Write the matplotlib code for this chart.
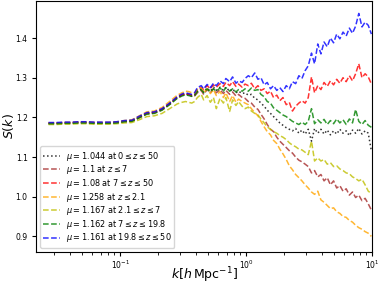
import matplotlib
matplotlib.use("Agg")
import matplotlib.pyplot as plt

# k bins [h/Mpc]
k_vals = [0.027, 0.031, 0.036, 0.041, 0.047, 0.054, 0.062, 0.071, 0.082, 0.094,
          0.108, 0.124, 0.142, 0.163, 0.187, 0.215, 0.247, 0.284,
          0.31, 0.33, 0.35, 0.37, 0.39, 0.41, 0.44, 0.46, 0.49, 0.52,
          0.55, 0.58, 0.62, 0.66, 0.69, 0.74, 0.78, 0.83, 0.87, 0.93,
          0.98, 1.04, 1.10, 1.17, 1.24, 1.31, 1.39, 1.47, 1.56, 1.65,
          1.75, 1.85, 1.96, 2.08, 2.20, 2.33, 2.47, 2.62, 2.77, 2.94,
          3.11, 3.30, 3.49, 3.70, 3.92, 4.15, 4.40, 4.66, 4.94, 5.23,
          5.54, 5.87, 6.22, 6.59, 6.98, 7.39, 7.83, 8.30, 8.79, 9.31, 9.86]

s_all = [1.185, 1.185, 1.186, 1.186, 1.187, 1.187, 1.186, 1.186, 1.186, 1.187,
         1.190, 1.191, 1.200, 1.210, 1.212, 1.220, 1.234, 1.250,
         1.256, 1.259, 1.257, 1.254, 1.256, 1.266, 1.272, 1.264, 1.274, 1.266,
         1.276, 1.268, 1.276, 1.268, 1.276, 1.266, 1.272, 1.262, 1.266, 1.260,
         1.262, 1.256, 1.258, 1.248, 1.244, 1.236, 1.228, 1.218, 1.210, 1.202,
         1.194, 1.186, 1.180, 1.174, 1.170, 1.166, 1.172, 1.160, 1.168, 1.158,
         1.170, 1.140, 1.172, 1.160, 1.170, 1.158, 1.168, 1.156, 1.166, 1.158,
         1.170, 1.160, 1.166, 1.154, 1.168, 1.160, 1.172, 1.158, 1.166, 1.160, 1.115]

s_z7 = [1.184, 1.184, 1.185, 1.185, 1.186, 1.186, 1.185, 1.185, 1.185, 1.186,
        1.189, 1.190, 1.199, 1.209, 1.211, 1.219, 1.233, 1.249,
        1.256, 1.259, 1.257, 1.254, 1.254, 1.262, 1.268, 1.258, 1.270, 1.262,
        1.272, 1.262, 1.270, 1.260, 1.268, 1.258, 1.264, 1.254, 1.258, 1.250,
        1.248, 1.240, 1.236, 1.226, 1.220, 1.208, 1.196, 1.182, 1.170, 1.164,
        1.150, 1.140, 1.132, 1.124, 1.116, 1.110, 1.100, 1.092, 1.088, 1.082,
        1.076, 1.060, 1.066, 1.050, 1.056, 1.040, 1.048, 1.030, 1.040, 1.022,
        1.028, 1.014, 1.020, 1.004, 1.012, 0.998, 1.004, 0.990, 0.996, 0.982, 0.966]

s_z7_50 = [1.186, 1.186, 1.187, 1.187, 1.188, 1.188, 1.187, 1.187, 1.187, 1.188,
           1.191, 1.192, 1.201, 1.211, 1.213, 1.221, 1.235, 1.251,
           1.257, 1.260, 1.258, 1.256, 1.258, 1.270, 1.276, 1.270, 1.280, 1.272,
           1.282, 1.276, 1.285, 1.278, 1.288, 1.280, 1.290, 1.278, 1.284, 1.276,
           1.284, 1.280, 1.286, 1.272, 1.280, 1.268, 1.272, 1.260, 1.266, 1.250,
           1.256, 1.242, 1.250, 1.232, 1.238, 1.216, 1.228, 1.236, 1.242, 1.236,
           1.250, 1.302, 1.262, 1.280, 1.270, 1.288, 1.278, 1.292, 1.282, 1.296,
           1.286, 1.300, 1.290, 1.305, 1.292, 1.310, 1.335, 1.300, 1.310, 1.302, 1.284]

s_z21 = [1.186, 1.186, 1.187, 1.187, 1.188, 1.188, 1.187, 1.187, 1.187, 1.189,
         1.192, 1.194, 1.204, 1.214, 1.216, 1.225, 1.240, 1.256,
         1.262, 1.266, 1.265, 1.262, 1.262, 1.270, 1.275, 1.262, 1.272, 1.260,
         1.270, 1.255, 1.265, 1.250, 1.262, 1.240, 1.255, 1.238, 1.246, 1.240,
         1.236, 1.232, 1.222, 1.212, 1.204, 1.190, 1.176, 1.164, 1.156, 1.142,
         1.134, 1.120, 1.108, 1.094, 1.078, 1.068, 1.056, 1.048, 1.040, 1.030,
         1.022, 1.012, 1.006, 1.014, 0.992, 0.986, 0.978, 0.970, 0.972, 0.962,
         0.958, 0.950, 0.948, 0.940, 0.936, 0.928, 0.922, 0.918, 0.912, 0.908, 0.900]

s_z21_7 = [1.182, 1.182, 1.183, 1.183, 1.184, 1.184, 1.183, 1.183, 1.183, 1.184,
           1.186, 1.187, 1.194, 1.202, 1.204, 1.210, 1.222, 1.234,
           1.238, 1.240, 1.238, 1.236, 1.240, 1.250, 1.258, 1.244, 1.255, 1.238,
           1.250, 1.222, 1.248, 1.236, 1.250, 1.215, 1.244, 1.230, 1.240, 1.228,
           1.222, 1.226, 1.216, 1.210, 1.206, 1.196, 1.186, 1.176, 1.170, 1.164,
           1.160, 1.154, 1.150, 1.144, 1.136, 1.130, 1.126, 1.120, 1.118, 1.112,
           1.106, 1.140, 1.090, 1.098, 1.090, 1.094, 1.082, 1.086, 1.076, 1.078,
           1.070, 1.066, 1.060, 1.058, 1.050, 1.046, 1.040, 1.044, 1.030, 1.014, 1.008]

s_z7_198 = [1.184, 1.184, 1.185, 1.185, 1.186, 1.186, 1.185, 1.185, 1.185, 1.186,
            1.189, 1.190, 1.199, 1.208, 1.210, 1.218, 1.232, 1.248,
            1.254, 1.257, 1.255, 1.253, 1.255, 1.265, 1.270, 1.262, 1.272, 1.264,
            1.272, 1.266, 1.274, 1.266, 1.275, 1.266, 1.272, 1.264, 1.270, 1.266,
            1.272, 1.266, 1.274, 1.268, 1.270, 1.258, 1.252, 1.240, 1.236, 1.224,
            1.218, 1.212, 1.206, 1.202, 1.196, 1.190, 1.186, 1.182, 1.188, 1.182,
            1.190, 1.222, 1.184, 1.194, 1.186, 1.195, 1.182, 1.192, 1.184, 1.196,
            1.186, 1.194, 1.182, 1.196, 1.186, 1.220, 1.190, 1.182, 1.192, 1.180, 1.175]

s_z198_50 = [1.187, 1.187, 1.188, 1.188, 1.189, 1.189, 1.188, 1.188, 1.188, 1.189,
             1.192, 1.193, 1.203, 1.212, 1.214, 1.222, 1.236, 1.252,
             1.259, 1.262, 1.260, 1.258, 1.262, 1.275, 1.280, 1.272, 1.283, 1.275,
             1.286, 1.280, 1.292, 1.285, 1.298, 1.290, 1.302, 1.286, 1.292, 1.288,
             1.298, 1.305, 1.300, 1.312, 1.296, 1.300, 1.282, 1.288, 1.272, 1.280,
             1.268, 1.275, 1.265, 1.280, 1.272, 1.290, 1.285, 1.305, 1.298, 1.318,
             1.330, 1.362, 1.335, 1.385, 1.360, 1.390, 1.378, 1.400, 1.388, 1.410,
             1.398, 1.415, 1.405, 1.425, 1.412, 1.430, 1.462, 1.428, 1.440, 1.432, 1.410]

labels = [r"$\mu = 1.044$ at $0 \leq z \leq 50$",
          r"$\mu = 1.1$ at $z \leq 7$",
          r"$\mu = 1.08$ at $7 \leq z \leq 50$",
          r"$\mu = 1.258$ at $z \leq 2.1$",
          r"$\mu = 1.167$ at $2.1 \leq z \leq 7$",
          r"$\mu = 1.162$ at $7 \leq z \leq 19.8$",
          r"$\mu = 1.161$ at $19.8 \leq z \leq 50$"]

series = [s_all, s_z7, s_z7_50, s_z21, s_z21_7, s_z7_198, s_z198_50]
colors = ["k", "brown", "r", "orange", "y", "g", "b"]
styles = [":", "--", "--", "--", "--", "--", "--"]

fig = plt.figure(figsize=(3.79, 2.83), dpi=100)
ax = fig.add_axes([0.095, 0.110, 0.887, 0.886])

for s, c, ls, lab in zip(series, colors, styles, labels):
    ax.plot(k_vals, s, ls, color=c, lw=1.1, alpha=0.8, label=lab)

ax.set_xscale("log")
ax.set_xlim(0.0215, 10)
ax.set_ylim(0.861, 1.493)
ax.set_yticks([0.9, 1.0, 1.1, 1.2, 1.3, 1.4])
ax.tick_params(labelsize=5.5, length=3)
ax.tick_params(axis="x", pad=1.5)
ax.tick_params(axis="y", pad=3)
ax.tick_params(which="minor", length=1.8)
ax.set_xlabel(r"$k[h\,\mathrm{Mpc}^{-1}]$", fontsize=9)
ax.xaxis.set_label_coords(0.5, -0.052)
ax.set_ylabel(r"$S(k)$", fontsize=9, labelpad=0)
ax.legend(loc="lower left", fontsize=5.9, handlelength=2.0, labelspacing=0.08,
          borderpad=0.4, handletextpad=0.7)

fig.savefig("out.png", dpi=100)
